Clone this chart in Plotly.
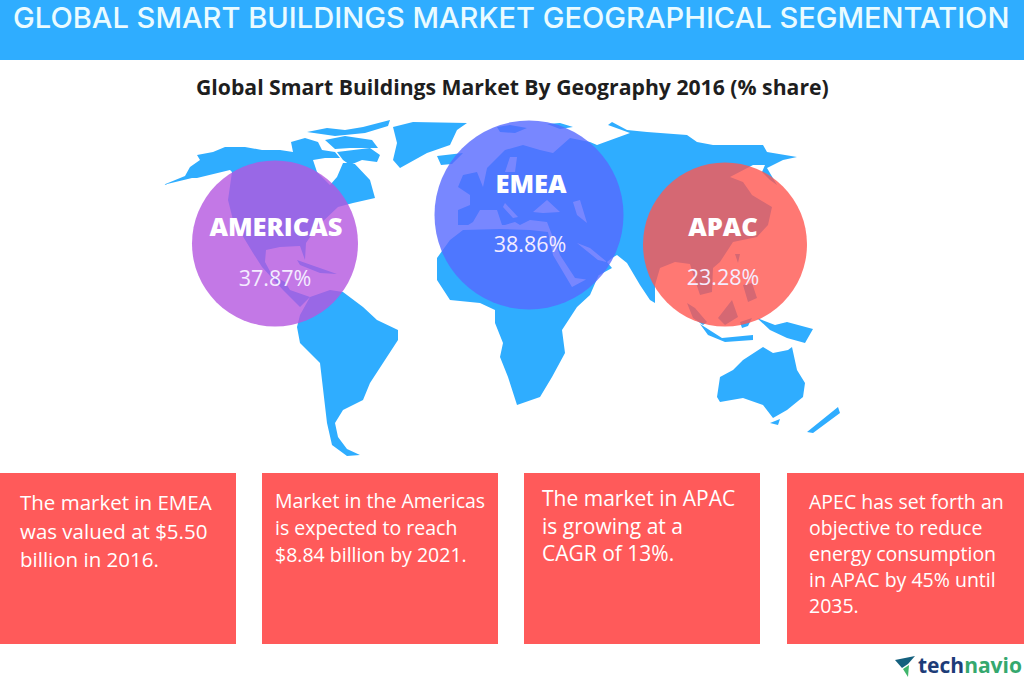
import plotly.graph_objects as go

# ----------------------------
# Data
# ----------------------------
regions = ["AMERICAS", "EMEA", "APAC"]
shares = [37.87, 38.86, 23.28]

header = "GLOBAL SMART BUILDINGS MARKET GEOGRAPHICAL SEGMENTATION"
subtitle = "Global Smart Buildings Market By Geography 2016 (% share)"

box_texts = [
    ["The market in EMEA", "was valued at $5.50", "billion in 2016."],
    ["Market in the Americas", "is expected to reach", "$8.84 billion by 2021."],
    ["The market in APAC", "is growing at a", "CAGR of 13%."],
    ["APEC has set forth an", "objective to reduce", "energy consumption", "in APAC by 45% until", "2035."],
]

# ----------------------------
# Layout values (page pixels)
# ----------------------------
W, H = 1024, 683
BLUE = "#2FADFF"
RED = "#FF5A5A"
FONT = "Open Sans"

circle_x = [275, 529, 725]
circle_y = [243.5, 215, 244.5]
circle_d = [166, 189, 164]
circle_colors = ["#B456E0", "#5669FF", "#FF5650"]
name_x = [276, 531, 723]
name_y = [230, 187, 230]
share_x = [275, 530, 723]
share_y = [281, 247, 280]

box_x0 = [0, 262, 524, 787]
box_x1 = [236, 498, 760, 1024]
box_top, box_bottom = 473, 644
text_x = [19, 274, 541, 808]
text_y = [[502, 531, 559], [500, 527, 554], [498, 526, 553], [501, 527, 553, 579, 605]]
text_size = [20.5, 19.5, 21, 19.5]

# ----------------------------
# World map outline (traced, page pixels)
# ----------------------------
land = [
    # North and Central America
    [(163,185),(185,176),(190,167),(200,160),(197,155),(213,152),(225,147),(245,147),(262,150),(280,150),
     (293,152),(291,142),(305,138),(318,142),(322,150),(335,152),(340,158),(325,158),(313,160),(317,172),
     (330,185),(337,177),(343,163),(353,162),(370,180),(375,198),(353,203),(346,205),(338,207),(317,227),
     (306,243),(305,260),(300,246),(280,247),(266,250),(265,262),(272,275),(285,282),(290,290),(310,297),
     (300,307),(283,290),(262,267),(253,253),(233,220),(228,200),(232,172),(230,170),(197,178),(192,178)],
    # South America
    [(297,327),(300,315),(310,297),(330,290),(343,292),(363,307),(377,320),(398,330),(398,340),(380,367),
     (370,383),(363,400),(343,410),(335,423),(338,437),(347,449),(360,455),(347,456),(332,445),(327,423),
     (323,390),(320,363),(300,343)],
    # Arctic islands
    [(307,132),(327,128),(345,130),(363,127),(390,120),(388,126),(365,133),(335,136)],
    [(325,140),(345,136),(372,140),(378,148),(350,148),(335,149)],
    [(337,152),(370,148),(380,155),(377,162),(362,160),(350,165),(343,160)],
    # Cuba
    [(297,260),(320,268),(337,274),(320,273),(300,265)],
    # Greenland and Iceland
    [(393,127),(413,122),(467,123),(457,130),(450,145),(427,153),(400,168),(393,160),(397,143)],
    [(437,156),(463,153),(452,164),(441,165)],
    # Africa
    [(437,258),(450,240),(463,230),(500,229),(530,230),(548,232),(553,255),(572,287),(600,272),(590,295),
     (577,307),(562,330),(565,353),(552,377),(540,397),(517,405),(508,377),(500,357),(503,343),(495,323),
     (495,310),(480,303),(450,300),(437,280)],
    # Eurasia
    [(458,225),(458,210),(470,205),(470,195),(458,187),(463,175),(477,172),(483,187),(487,168),(505,150),
     (523,145),(540,150),(553,153),(570,138),(590,142),(597,145),(630,133),(608,125),(612,122),(627,130),
     (647,132),(687,135),(697,142),(713,145),(763,145),(767,152),(797,157),(783,160),(767,168),(777,185),
     (770,180),(762,172),(765,165),(753,165),(730,177),(743,182),(750,192),(752,195),(772,207),(768,225),
     (757,237),(733,242),(720,262),(713,268),(712,292),(700,295),(695,280),(690,264),(675,262),(660,268),
     (655,285),(655,303),(650,300),(640,285),(627,263),(617,255),(612,258),(607,262),(612,268),(590,280),
     (575,278),(560,255),(552,235),(547,222),(530,220),(520,225),(515,222),(505,225),(500,225),(480,225)],
    # Svalbard, Franz Josef Land
    [(497,127),(510,125),(527,128),(515,133),(500,132)],
    [(547,124),(560,123),(573,127),(560,129)],
    # Taiwan
    [(735,254),(740,254),(738,263)],
    # Southeast Asia and Oceania
    [(743,285),(752,283),(757,298),(748,302)],
    [(687,303),(695,308),(707,322),(703,325),(693,318)],
    [(718,318),(732,300),(738,317),(725,325)],
    [(740,322),(752,318),(748,326),(742,328)],
    [(700,324),(722,338),(753,335),(753,340),(725,342),(708,335)],
    [(757,318),(775,325),(787,322),(813,329),(805,343),(787,338),(770,330)],
    # Australia, Tasmania, New Zealand
    [(717,397),(720,377),(733,370),(743,360),(763,347),(773,353),(788,350),(792,347),(797,370),(805,383),
     (803,397),(787,410),(773,418),(763,405),(743,398),(720,402)],
    [(770,423),(780,419),(778,425)],
    [(807,432),(838,407),(840,413),(813,433)],
]
# seas cut back out of the land
seas = [
    [(573,202),(580,200),(587,223),(577,215)],
    [(533,212),(547,200),(560,212),(543,213)],
    [(577,243),(590,248),(607,262),(598,260)],
    [(465,227),(473,222),(480,210),(497,210),(502,225)],
    [(505,203),(518,217),(513,218),(503,207)],
    [(510,157),(517,157),(515,172),(505,172)],
]
logo_icon = [
    [(895,660),(915,656),(908,664),(902,668)],
    [(903,669),(909,665),(908,677)],
]


def outline_xy(polys):
    xs, ys = [], []
    for poly in polys:
        xs += [p[0] for p in poly] + [poly[0][0], None]
        ys += [p[1] for p in poly] + [poly[0][1], None]
    return xs, ys


fig = go.Figure()

land_x, land_y = outline_xy(land)
fig.add_trace(go.Scatter(x=land_x, y=land_y, mode="lines", fill="toself", fillcolor=BLUE,
                         line=dict(width=0, color=BLUE), hoverinfo="skip"))
sea_x, sea_y = outline_xy(seas)
fig.add_trace(go.Scatter(x=sea_x, y=sea_y, mode="lines", fill="toself", fillcolor="white",
                         line=dict(width=0, color="white"), hoverinfo="skip"))

# Region bubbles
for i, region in enumerate(regions):
    fig.add_trace(go.Scatter(x=[circle_x[i]], y=[circle_y[i]], mode="markers", name=region,
                             marker=dict(size=circle_d[i], color=circle_colors[i], opacity=0.8, line=dict(width=0))))

# Region names and shares
fig.add_trace(go.Scatter(x=name_x, y=name_y, mode="text", text=regions,
                         textfont=dict(family=FONT, size=25.5, color="white", weight=800)))
fig.add_trace(go.Scatter(x=share_x, y=share_y, mode="text", text=[f"{s:.2f}%" for s in shares],
                         textfont=dict(family=FONT, size=21.5, color="#F4ECFF")))

# Logo icon
icon_x, icon_y = outline_xy(logo_icon[:1])
fig.add_trace(go.Scatter(x=icon_x, y=icon_y, mode="lines", fill="toself", fillcolor="#14607E",
                         line=dict(width=0), hoverinfo="skip"))
icon_x, icon_y = outline_xy(logo_icon[1:])
fig.add_trace(go.Scatter(x=icon_x, y=icon_y, mode="lines", fill="toself", fillcolor="#3FB56B",
                         line=dict(width=0), hoverinfo="skip"))

# ----------------------------
# Banner and text boxes
# ----------------------------
shapes = [dict(type="rect", x0=0, x1=W, y0=0, y1=60, fillcolor=BLUE, line_width=0, layer="below")]
for x0, x1 in zip(box_x0, box_x1):
    shapes.append(dict(type="rect", x0=x0, x1=x1, y0=box_top, y1=box_bottom,
                       fillcolor=RED, line_width=0, layer="below"))

annotations = [
    dict(x=511, y=17, text=header, font=dict(family="Inter", size=29.1, color="#EAFBFF", weight=500)),
    dict(x=512.5, y=86, text=f"<b>{subtitle}</b>", font=dict(family=FONT, size=21.2, color="#1E1E1E")),
    dict(x=917, y=665, xanchor="left",
         text='<b><span style="color:#1D3C78">tech</span><span style="color:#35A86E">navio</span></b>',
         font=dict(family=FONT, size=21)),
]
for i, lines in enumerate(box_texts):
    for line, y in zip(lines, text_y[i]):
        annotations.append(dict(x=text_x[i], y=y, xanchor="left", text=line,
                                font=dict(family=FONT, size=text_size[i], color="white")))
for a in annotations:
    a.update(xref="x", yref="y", showarrow=False, borderpad=0)

fig.update_layout(
    width=W, height=H,
    margin=dict(l=0, r=0, t=0, b=0),
    paper_bgcolor="white",
    plot_bgcolor="white",
    showlegend=False,
    shapes=shapes,
    annotations=annotations,
    xaxis=dict(range=[0, W], visible=False, fixedrange=True),
    yaxis=dict(range=[H, 0], visible=False, fixedrange=True),
)

fig.write_html("out.html", config=dict(displayModeBar=False), post_script="document.body.style.margin='0';")
